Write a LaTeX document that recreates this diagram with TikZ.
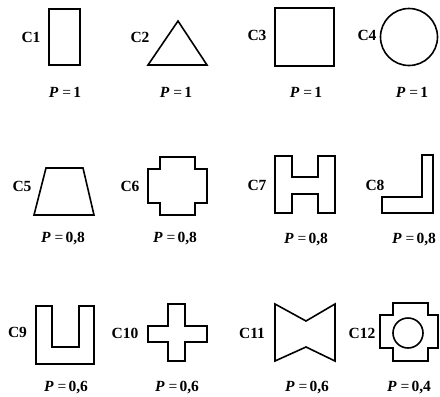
\documentclass[tikz,border=0pt]{standalone}
\usepackage{fontspec}
\setmainfont{Liberation Serif}
\newcommand{\pval}[1]{\textbf{\textit{P}}\hspace{0.25em}=\hspace{0.15em}\textbf{#1}}

\begin{document}
\begin{tikzpicture}[x=1pt,y=-1pt,
  shp/.style={line width=1.6pt,line join=miter},
  tag/.style={font=\fontsize{15.5}{17}\selectfont\bfseries},
  val/.style={font=\fontsize{15.5}{17}\selectfont}]
  \useasboundingbox (0,0) rectangle (440,397);
  % row 1
  \draw[shp] (49,9) rectangle (80,65);
  \draw[shp] (178,21) -- (207,65) -- (148,65) -- cycle;
  \draw[shp] (275,8) rectangle (334,66);
  \draw[shp] (409,37) circle (28.5);
  \node[tag] (c1) at (31,37) {C1};
  \node[tag] (c2) at (140,37) {C2};
  \node[tag] (c3) at (257,35) {C3};
  \node[tag] (c4) at (367,35) {C4};
  \node[val] (p1) at (65,92) {\pval{1}};
  \node[val] (p2) at (176,92) {\pval{1}};
  \node[val] (p3) at (306,92) {\pval{1}};
  \node[val] (p4) at (412,92) {\pval{1}};
  % row 2
  \draw[shp] (46,168) -- (83,168) -- (94,215) -- (34,215) -- cycle;
  \draw[shp] (160,157) -- (195,157) -- (195,169) -- (207,169) -- (207,203)
    -- (195,203) -- (195,215) -- (160,215) -- (160,203) -- (148,203)
    -- (148,169) -- (160,169) -- cycle;
  \draw[shp] (275,156) -- (292,156) -- (292,177) -- (318,177) -- (318,156)
    -- (335,156) -- (335,213) -- (318,213) -- (318,194) -- (292,194)
    -- (292,213) -- (275,213) -- cycle;
  \draw[shp] (422,155) -- (433,155) -- (433,213) -- (382,213) -- (382,197)
    -- (422,197) -- cycle;
  \node[tag] (c5) at (22,186) {C5};
  \node[tag] (c6) at (130,186) {C6};
  \node[tag] (c7) at (257,185) {C7};
  \node[tag] (c8) at (375,185) {C8};
  \node[val] (p5) at (63,239) {\pval{0,8}};
  \node[val] (p6) at (175,239) {\pval{0,8}};
  \node[val] (p7) at (306,240) {\pval{0,8}};
  \node[val] (p8) at (414,240) {\pval{0,8}};
  % row 3
  \draw[shp] (36,306) -- (52,306) -- (52,347) -- (79,347) -- (79,306)
    -- (94,306) -- (94,364) -- (36,364) -- cycle;
  \draw[shp] (168,304) -- (185,304) -- (185,326) -- (207,326) -- (207,342)
    -- (185,342) -- (185,361) -- (168,361) -- (168,342) -- (148,342)
    -- (148,326) -- (168,326) -- cycle;
  \draw[shp] (275,304) -- (306,321) -- (335,304) -- (335,361) -- (306,347)
    -- (275,361) -- cycle;
  \draw[shp] (393,303) -- (428,303) -- (428,315) -- (438,315) -- (438,348)
    -- (428,348) -- (428,361) -- (393,361) -- (393,348) -- (380,348)
    -- (380,315) -- (393,315) -- cycle;
  \draw[shp] (408,333) circle (15);
  \node[tag] (c9) at (17.5,332) {C9};
  \node[tag] (c10) at (125,333) {C10};
  \node[tag] (c11) at (252,333) {C11};
  \node[tag] (c12) at (362,333) {C12};
  \node[val] (p9) at (66,388) {\pval{0,6}};
  \node[val] (p10) at (177,388) {\pval{0,6}};
  \node[val] (p11) at (307,388) {\pval{0,6}};
  \node[val] (p12) at (409,388) {\pval{0,4}};
\end{tikzpicture}
\end{document}
